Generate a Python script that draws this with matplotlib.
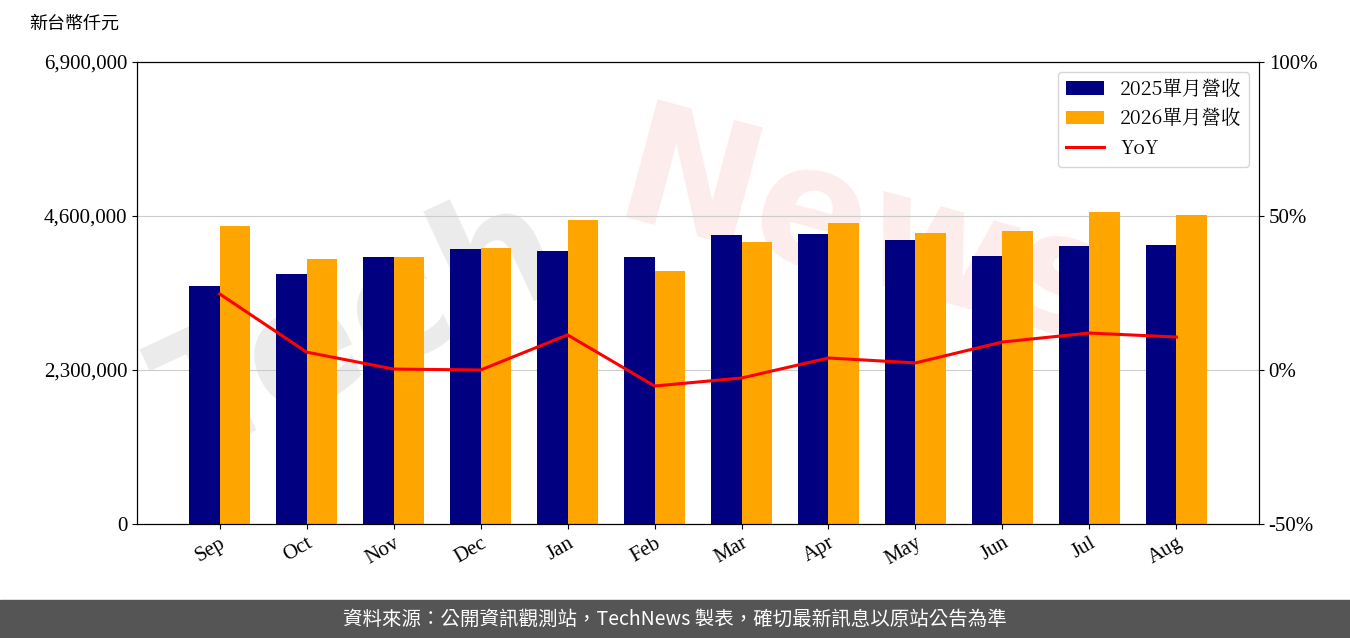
import matplotlib
matplotlib.use("Agg")
import matplotlib.pyplot as plt
import numpy as np
from matplotlib.ticker import FuncFormatter

months = ["Sep","Oct","Nov","Dec","Jan","Feb","Mar","Apr","May","Jun","Jul","Aug"]
rev2025 = [3550000,3730000,3990000,4110000,4080000,3990000,4320000,4330000,4240000,4000000,4150000,4170000]
rev2026 = [4450000,3960000,3990000,4120000,4540000,3780000,4210000,4500000,4350000,4380000,4660000,4610000]
yoy = [24.7,5.8,0.3,0.0,11.4,-5.2,-2.6,3.9,2.3,9.1,12.0,10.7]

serif = ["Liberation Serif","DejaVu Serif"]
cjk = ["Noto Sans CJK TC","DejaVu Sans"]

fig = plt.figure(figsize=(13.5,6.38), dpi=100)
ax = fig.add_axes([0.1015,0.1787,0.8311,0.7241])
x = np.arange(len(months))
w = 0.35
ax.text(0.2,0.42,"Tech", transform=ax.transAxes, fontsize=120, color="#b0b0b0", alpha=0.25,
        rotation=25, ha="center", va="center", fontweight="bold", zorder=1, clip_on=True)
ax.text(0.65,0.62,"News", transform=ax.transAxes, fontsize=120, color="#f0a0a0", alpha=0.2,
        rotation=-15, ha="center", va="center", fontweight="bold", zorder=1, clip_on=True)
ax.bar(x-w/2, rev2025, w, color="#000080", label="2025單月營收", zorder=2)
ax.bar(x+w/2, rev2026, w, color="#FFA500", label="2026單月營收", zorder=2)
ax.set_ylim(0,6900000)
ax.set_yticks([0,2300000,4600000,6900000])
ax.yaxis.set_major_formatter(FuncFormatter(lambda v,p: f"{int(v):,}"))
ax.grid(axis="y", color="#cccccc", zorder=0)
ax.set_xlim(-0.95,11.95)
ax.set_xticks(x)
ax.set_xticklabels(months, rotation=30, ha="right", rotation_mode="anchor", fontsize=15, family=serif)
for t in ax.get_yticklabels():
    t.set_family(serif); t.set_fontsize(15)

ax2 = ax.twinx()
ax2.plot(x, yoy, color="red", lw=2.2, label="YoY")
ax2.set_ylim(-50,100)
ax2.set_yticks([-50,0,50,100])
ax2.set_yticklabels(["-50%","0%","50%","100%"], family=serif, fontsize=15)

h1,l1 = ax.get_legend_handles_labels()
h2,l2 = ax2.get_legend_handles_labels()
ax2.legend(h1+h2, l1+l2, loc="upper right", prop={"family":["Noto Serif CJK TC","Noto Sans CJK TC","DejaVu Serif"],"size":14})

fig.text(0.022,0.955,"新台幣仟元", family=cjk, fontsize=13)
fig.patches.append(plt.Rectangle((0,0),1,0.06,transform=fig.transFigure,color="#555555",zorder=0))
fig.text(0.5,0.03,"資料來源：公開資訊觀測站，TechNews 製表，確切最新訊息以原站公告為準",
         color="white", ha="center", va="center", family=cjk, fontsize=14)
fig.savefig("out.png", dpi=100)
